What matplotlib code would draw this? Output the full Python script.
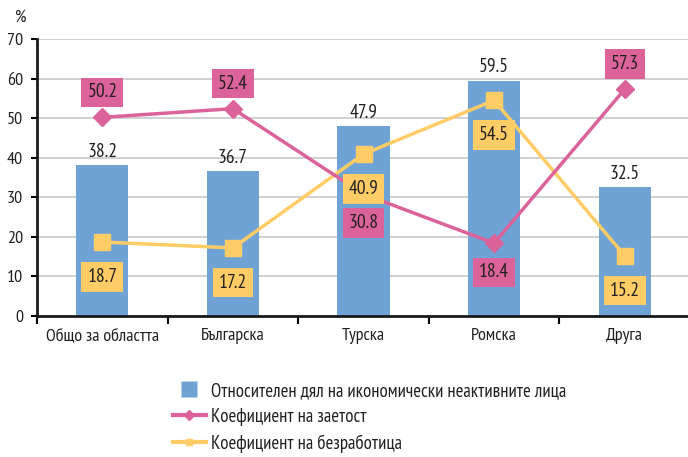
import matplotlib
matplotlib.use("Agg")
import matplotlib.pyplot as plt
import numpy as np
from matplotlib.lines import Line2D

plt.rcParams['font.family'] = ['PT Sans Narrow', 'DejaVu Sans']

categories = ["Общо за областта", "Българска", "Турска", "Ромска", "Друга"]
inactive = [38.2, 36.7, 47.9, 59.5, 32.5]
employment = [50.2, 52.4, 30.8, 18.4, 57.3]
unemployment = [18.7, 17.2, 40.9, 54.5, 15.2]
emp_label_above = [True, True, False, False, True]

legend_labels = ["Относителен дял на икономически неактивните лица",
                 "Коефициент на заетост",
                 "Коефициент на безработица"]

c_bar = "#6FA3D5"
c_pink = "#DB6399"
c_yel = "#FFCC66"
c_txt = "#231F20"

fig = plt.figure(figsize=(6.88, 4.57), dpi=100)
ax = fig.add_axes([37/688, 1-316/457, 653/688, 277/457])
x = np.arange(len(categories))

ax.bar(x, inactive, width=0.4, color=c_bar, zorder=2)
ax.plot(x, employment, color=c_pink, lw=2.5, marker='D', ms=9, zorder=4)
ax.plot(x, unemployment, color=c_yel, lw=2.5, marker='s', ms=11, zorder=3)

fs = 13
lfs = 14
for xi, v in zip(x, inactive):
    ax.annotate(f"{v:.1f}", (xi, v), xytext=(0, 3), textcoords='offset points',
                ha='center', va='bottom', fontsize=lfs, color=c_txt, zorder=5)

for xi, v, up in zip(x, employment, emp_label_above):
    ax.annotate(f"{v:.1f}", (xi, v), xytext=(0, 18 if up else -21), textcoords='offset points',
                ha='center', va='center', fontsize=lfs, color=c_txt, zorder=6,
                bbox=dict(boxstyle='square,pad=0.3', fc=c_pink, ec='none'))

for xi, v in zip(x, unemployment):
    ax.annotate(f"{v:.1f}", (xi, v), xytext=(0, -25), textcoords='offset points',
                ha='center', va='center', fontsize=lfs, color=c_txt, zorder=6,
                bbox=dict(boxstyle='square,pad=0.3', fc=c_yel, ec='none'))

ax.set_ylim(0, 70)
ax.set_xlim(-0.5, 4.5)
ax.set_yticks(range(0, 71, 10))
ax.yaxis.grid(True, color='#C8C8C8', lw=1.2, zorder=0)
ax.set_axisbelow(True)
ax.tick_params(axis='y', labelsize=fs, length=4, width=1.5, direction='out', pad=6, labelcolor=c_txt)
ax.set_xticks(x)
ax.set_xticklabels(categories, fontsize=fs, color=c_txt)
ax.set_xticks(np.arange(-0.5, 4.6, 1), minor=True)
ax.tick_params(axis='x', which='major', length=0, pad=9)
ax.tick_params(axis='x', which='minor', length=6, width=1.5, direction='out')
for s in ['top', 'right']:
    ax.spines[s].set_visible(False)
for s in ['left', 'bottom']:
    ax.spines[s].set_linewidth(2)
    ax.spines[s].set_color('#1a1a1a')

fig.text(21/688, 1-18/457, "%", fontsize=fs, ha='center', va='center', color=c_txt)

handles = [Line2D([], [], color=c_bar, ls='none', marker='s', ms=11.5, mec='none'),
           Line2D([], [], color=c_pink, lw=3, marker='D', ms=5),
           Line2D([], [], color=c_yel, lw=3, marker='s', ms=5)]
fig.legend(handles, legend_labels, loc='upper left', bbox_to_anchor=(173/688, 1-382/457),
           frameon=False, fontsize=13.5, handlelength=1.75, handleheight=0.9, handletextpad=0.3,
           labelspacing=0.42, borderaxespad=0, borderpad=0, labelcolor=c_txt)

fig.savefig("out.png", dpi=100)
